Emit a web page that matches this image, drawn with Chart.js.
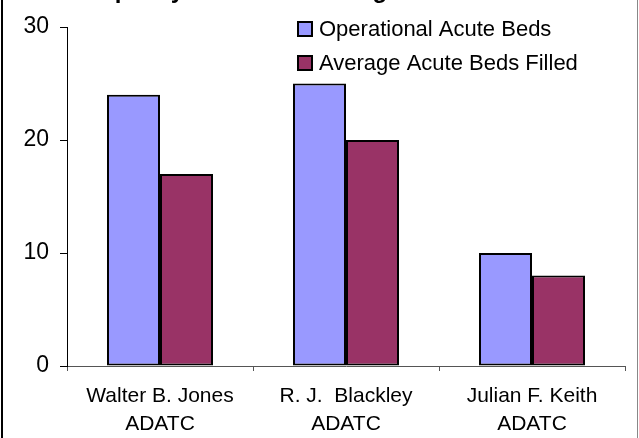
<!DOCTYPE html>
<html>
<head>
<meta charset="utf-8">
<script src="https://cdn.jsdelivr.net/npm/chart.js@4.4.0/dist/chart.umd.min.js"></script>
<style>
  html, body { margin: 0; padding: 0; background: #fff; }
  #wrap { width: 639px; height: 438px; position: relative; }
</style>
</head>
<body>
<div id="wrap"><canvas id="c"></canvas></div>
<script>
const categories = [["Walter B. Jones", "ADATC"], ["R. J.  Blackley", "ADATC"], ["Julian F. Keith", "ADATC"]];
const operationalBeds = [24, 25, 10];
const averageFilled = [17, 20, 8];
const seriesNames = ["Operational Acute Beds", "Average Acute Beds Filled"];
const yTicks = [0, 10, 20, 30];
const titleText = "Capacity      and      Average";

const FONT = "'Liberation Sans', Arial, sans-serif";

const decor = {
  id: 'decor',
  afterDraw(chart) {
    const ctx = chart.ctx;
    ctx.save();
    // cut-off title (only descenders visible, as in the reference)
    ctx.font = "bold 24px " + FONT;
    ctx.fillStyle = '#000';
    ctx.textAlign = 'left';
    ctx.textBaseline = 'alphabetic';
    ctx.fillText(titleText, 84, -2);
    // legend
    chart.data.datasets.forEach((ds, i) => {
      const y = 22 + i * 34;
      ctx.fillStyle = ds.backgroundColor;
      ctx.fillRect(298, y, 14, 14);
      ctx.lineWidth = 2;
      ctx.strokeStyle = '#000';
      ctx.strokeRect(298, y, 14, 14);
      ctx.fillStyle = '#000';
      ctx.font = "22px " + FONT;
      ctx.textAlign = 'left';
      ctx.textBaseline = 'middle';
      ctx.fillText(ds.label, 319, y + 8);
    });
    // outer frame
    ctx.fillStyle = '#000';
    ctx.fillRect(1, 0, 2, 438);
    ctx.fillStyle = '#888';
    ctx.fillRect(637, 0, 1, 438);
    ctx.restore();
  }
};

new Chart(document.getElementById('c'), {
  type: 'bar',
  data: {
    labels: categories,
    datasets: [
      { label: seriesNames[0], data: operationalBeds, backgroundColor: '#9999FF', borderColor: '#000', borderWidth: 2, borderSkipped: false },
      { label: seriesNames[1], data: averageFilled, backgroundColor: '#993366', borderColor: '#000', borderWidth: 2, borderSkipped: false }
    ]
  },
  options: {
    responsive: true,
    maintainAspectRatio: false,
    animation: false,
    devicePixelRatio: 1,
    layout: { padding: { top: 27, right: 14, left: 0, bottom: 0 } },
    datasets: { bar: { categoryPercentage: 0.57, barPercentage: 1.0 } },
    plugins: { legend: { display: false }, tooltip: { enabled: false }, title: { display: false } },
    scales: {
      x: {
        grid: { display: true, drawOnChartArea: false, offset: true, tickLength: 5, color: '#555', lineWidth: 1 },
        border: { display: true, color: '#555', width: 1 },
        ticks: { color: '#000', font: { family: FONT, size: 21, lineHeight: 1.333 }, padding: 11, maxRotation: 0, autoSkip: false },
        afterFit(scale) { scale.height = 72; }
      },
      y: {
        min: 0, max: 30,
        afterBuildTicks(scale) { scale.ticks = yTicks.map(v => ({ value: v })); },
        grid: { display: true, drawOnChartArea: false, tickLength: 7, color: '#000', lineWidth: 1 },
        border: { display: true, color: '#000', width: 1 },
        ticks: { color: '#000', font: { family: FONT, size: 23 }, padding: 11 },
        afterFit(scale) { scale.width = 67; }
      }
    }
  },
  plugins: [decor]
});
</script>
</body>
</html>
